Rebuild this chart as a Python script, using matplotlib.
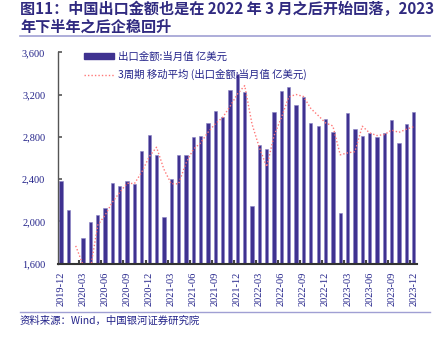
import matplotlib
matplotlib.use("Agg")
import matplotlib.pyplot as plt
import numpy as np
import pandas as pd
from matplotlib.patches import Patch
from matplotlib.lines import Line2D

months = pd.date_range("2019-12-01", "2023-12-01", freq="MS").strftime("%Y-%m").tolist()
exports = [2382,
           2111, 813, 1843, 1991, 2060, 2127, 2363, 2338, 2382, 2356, 2666, 2814,
           2628, 2042, 2401, 2625, 2625, 2798, 2805, 2928, 3041, 2984, 3240, 3391,
           3226, 2145, 2722, 2684, 3035, 3232, 3271, 3101, 3176, 2930, 2902, 2967,
           2842, 2082, 3022, 2877, 2805, 2833, 2801, 2833, 2959, 2738, 2921, 3032]
yticks = [1600, 2000, 2400, 2800, 3200, 3600]

title = "图11：中国出口金额也是在 2022 年 3 月之后开始回落，2023\n年下半年之后企稳回升"
source = "资料来源：Wind，中国银河证券研究院"
bar_label = "出口金额:当月值 亿美元"
ma_label = "3周期 移动平均 (出口金额:当月值 亿美元)"

plt.rcParams['font.family'] = ['Liberation Serif', 'Noto Sans CJK SC']

W, H = 438, 347
fig = plt.figure(figsize=(W/100, H/100), dpi=100)

ax = fig.add_axes([57.7/W, 1-263.7/H, (417-57.7)/W, (263.7-52.4)/H])

x = np.arange(len(months))
vals = np.array(exports, dtype=float)
ma = pd.Series(vals).rolling(3).mean().values

bar_color = '#3F3290'
txt_color = '#23238A'
ax.bar(x, vals - 1600, bottom=1600, width=0.45, color=bar_color,
       edgecolor='#8A82C4', linewidth=0.4, zorder=2)
ax.plot(x, ma, color='#FF7878', linestyle=(0, (1, 1.5)), linewidth=1.0, zorder=3)

ax.set_ylim(1600, 3600)
ax.set_xlim(-0.45, len(months) - 0.55)
ax.set_yticks(yticks)
ax.set_yticklabels([f"{v:,}" for v in yticks])
lab_idx = list(range(0, len(months), 3))
ax.set_xticks(lab_idx)
ax.set_xticklabels([months[i] for i in lab_idx], rotation=90)
ax.set_xticks([i - 0.5 for i in lab_idx if i > 0], minor=True)
ax.tick_params(axis='x', which='major', length=0, pad=6, labelsize=7.5, labelcolor=txt_color)
ax.tick_params(axis='x', which='minor', direction='in', length=3, width=1.5, color='#444444')
ax.tick_params(axis='y', direction='in', length=3, width=1.2, color='#555555', pad=9,
               labelsize=7.5, labelcolor=txt_color)

for s in ['top', 'right']:
    ax.spines[s].set_visible(False)
ax.spines['left'].set_color('#555555')
ax.spines['left'].set_linewidth(1.0)
ax.spines['bottom'].set_color('#333333')
ax.spines['bottom'].set_linewidth(1.5)
ax.spines['bottom'].set_zorder(4)

handles = [Patch(facecolor=bar_color, edgecolor=bar_color),
           Line2D([0], [0], color='#FF7878', linestyle=(0, (1, 1.5)), linewidth=1.0)]
leg = ax.legend(handles, [bar_label, ma_label], loc='upper left',
                bbox_to_anchor=(21/359.3, 1.03), frameon=False, borderpad=0,
                handlelength=2.9, handleheight=0.5, handletextpad=0.4,
                labelspacing=0.75, prop={'family': ['Noto Sans CJK SC'], 'size': 7.5})
for t in leg.get_texts():
    t.set_color(txt_color)

fig.text(20/W, 1-1/H, title, ha='left', va='top', fontsize=10.9, fontweight='bold',
         color='#302A80', family=['Noto Sans CJK SC'], linespacing=1.12)
fig.add_artist(Line2D([20/W, 430/W], [1-35.7/H, 1-35.7/H], color='#A09FD3', linewidth=1.2))
fig.add_artist(Line2D([20/W, 430/W], [1-312/H, 1-312/H], color='#A09FD3', linewidth=1.0))
fig.text(20/W, 1-321/H, source, ha='left', va='center', fontsize=7.5,
         color='#23238A', family=['Noto Sans CJK SC'], style='italic')

fig.savefig("out.png", dpi=100)
